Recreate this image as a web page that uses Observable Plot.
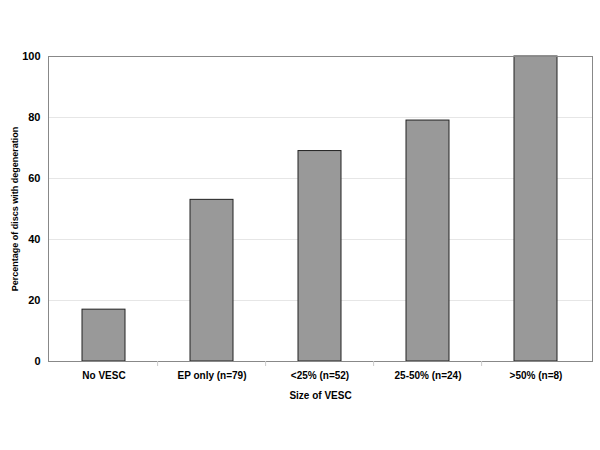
<!DOCTYPE html>
<html><head><meta charset="utf-8">
<script src="https://cdn.jsdelivr.net/npm/d3@7"></script>
<script src="https://cdn.jsdelivr.net/npm/@observablehq/plot@0.6"></script>
<style>body{margin:0;background:#fff;font-family:Arial,"Liberation Sans",sans-serif}</style>
</head><body><div id="chart"></div>
<script>
const categories = ["No VESC", "EP only (n=79)", "<25% (n=52)", "25-50% (n=24)", ">50% (n=8)"];
const values = [17, 53, 69, 79, 100];
const yTicks = [0, 20, 40, 60, 80, 100];

const data = categories.map((c, i) => ({cat: c, v: values[i]}));
const W = 600, H = 450, mL = 48, mR = 8, mT = 56, mB = 89;
const half = (W - mL - mR) / categories.length / 2;

const chart = Plot.plot({
  width: W, height: H,
  marginLeft: mL, marginRight: mR, marginTop: mT, marginBottom: mB,
  style: {fontFamily: "Arial, 'Liberation Sans', sans-serif", background: "#fff"},
  x: {domain: categories, paddingInner: 0.6, paddingOuter: 0.3, align: 0.5, label: null},
  y: {domain: [0, 100], label: null},
  marks: [
    Plot.gridY(yTicks.filter(d => d > 0 && d < 100), {stroke: "#e6e6e6", strokeOpacity: 1}),
    Plot.barY(data, {x: "cat", y: "v", fill: "#999999", stroke: "#222", strokeWidth: 1}),
    Plot.frame({stroke: "#888", strokeWidth: 1}),
    Plot.ruleX(categories.slice(1), {y: 0, dx: -half, insetBottom: -5, stroke: "#ccc"}),
    Plot.axisX({tickSize: 0, tickPadding: 10, fontSize: 10, fontWeight: "bold", fill: "#000", label: null}),
    Plot.axisY({ticks: yTicks, tickSize: 0, tickPadding: 8, fontSize: 11, fontWeight: "bold", fill: "#000", label: null}),
    Plot.text(["Size of VESC"], {frameAnchor: "bottom", dy: 37, fontSize: 10, fontWeight: "bold", fill: "#000"}),
    Plot.text(["Percentage of discs with degeneration"], {frameAnchor: "left", textAnchor: "middle", dx: -33, rotate: -90, fontSize: 9, fontWeight: "bold", fill: "#000"})
  ]
});
document.getElementById("chart").appendChild(chart);
</script></body></html>
